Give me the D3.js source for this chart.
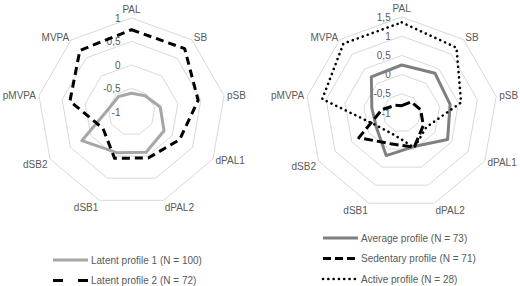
<!DOCTYPE html>
<html>
<head>
<meta charset="utf-8">
<script src="https://cdn.jsdelivr.net/npm/d3@7"></script>
<style>
  body { margin: 0; background: #fff; }
  svg { display: block; }
</style>
</head>
<body>
<div id="chart"></div>
<script>
// categories (clockwise from top)
const categories = ["PAL", "SB", "pSB", "dPAL1", "dPAL2", "dSB1", "dSB2", "pMVPA", "MVPA"];

// left panel: latent profiles
const latent1 = [-0.60, -0.55, -0.38, -0.20, -0.09, -0.08, 0.22, -0.52, -0.57];
const latent2 = [0.75, 0.76, 0.44, 0.18, 0.04, 0.05, -0.30, 0.33, 0.71];
const leftTicks = [-1, -0.5, 0, 0.5, 1];

// right panel: named profiles
const average = [0.25, 0.35, 0.28, 0.38, -0.07, 0.18, -0.24, -0.21, 0.23];
const sedentary = [-0.81, -0.62, -0.50, -0.35, -0.05, -0.15, 0.29, -0.48, -0.74];
const active = [1.36, 1.22, 0.57, -0.26, -0.04, -0.40, -0.30, 1.10, 1.36];
const rightTicks = [-1, -0.5, 0, 0.5, 1, 1.5];

const width = 520, height = 286;
const textColor = "#595959";
const gridColor = "#d9d9d9";

const locale = d3.formatLocale({decimal: ",", thousands: ".", grouping: [3], currency: ["", ""], minus: "-"});
const fmt = locale.format("");

const svg = d3.select("#chart").append("svg")
    .attr("width", width)
    .attr("height", height)
    .attr("viewBox", [0, 0, width, height])
    .attr("font-family", "'Liberation Sans', Arial, sans-serif")
    .attr("font-size", 10);

function radar({cx, cy, rMax, ticks, series, legendX, legendY}) {
  const n = categories.length;
  const angle = i => i * 2 * Math.PI / n;
  const r = d3.scaleLinear().domain(d3.extent(ticks)).range([0, rMax]);

  const g = svg.append("g").attr("transform", `translate(${cx},${cy})`);

  // grid rings
  const ring = d3.lineRadial()
      .angle((d, i) => angle(i))
      .radius(d => r(d))
      .curve(d3.curveLinearClosed);

  g.append("g")
    .selectAll("path")
    .data(ticks.slice(1))
    .join("path")
      .attr("fill", "none")
      .attr("stroke", gridColor)
      .attr("stroke-width", 1)
      .attr("d", t => ring(categories.map(() => t)));

  // value labels
  g.append("g")
    .selectAll("text")
    .data(ticks)
    .join("text")
      .attr("x", -11)
      .attr("y", t => -r(t))
      .attr("dy", "0.35em")
      .attr("text-anchor", "end")
      .attr("fill", textColor)
      .text(fmt);

  // category labels
  g.append("g")
    .selectAll("text")
    .data(categories)
    .join("text")
      .attr("fill", textColor)
      .attr("x", (d, i) => Math.sin(angle(i)) * (rMax + 3))
      .attr("y", (d, i) => {
        const c = Math.cos(angle(i));
        const y = -c * (rMax + 3);
        if (c > 0.95) return y - 6;
        if (c < -0.5) return y + 4;
        return y;
      })
      .attr("dy", "0.35em")
      .attr("text-anchor", (d, i) => {
        const s = Math.sin(angle(i));
        return s > 0.1 ? "start" : s < -0.1 ? "end" : "middle";
      })
      .text(d => d);

  // series
  const line = d3.lineRadial()
      .angle((d, i) => angle(i))
      .radius(d => r(d))
      .curve(d3.curveLinearClosed);

  g.append("g")
    .selectAll("path")
    .data(series)
    .join("path")
      .attr("fill", "none")
      .attr("stroke", s => s.color)
      .attr("stroke-width", s => s.width)
      .attr("stroke-dasharray", s => s.dash)
      .attr("stroke-linecap", s => s.cap)
      .attr("stroke-linejoin", "round")
      .attr("d", s => line(s.values));

  // legend
  const lg = svg.append("g")
    .selectAll("g")
    .data(series)
    .join("g")
      .attr("transform", (s, i) => `translate(${legendX},${legendY + i * 20.5})`);

  lg.append("line")
      .attr("x1", 0).attr("x2", 35)
      .attr("stroke", s => s.color)
      .attr("stroke-width", s => s.width)
      .attr("stroke-dasharray", s => s.legendDash || s.dash)
      .attr("stroke-linecap", s => s.cap);

  lg.append("text")
      .attr("x", 38)
      .attr("dy", "0.35em")
      .attr("fill", textColor)
      .text(s => s.name);
}

radar({
  cx: 131.5, cy: 112, rMax: 94, ticks: leftTicks,
  legendX: 53, legendY: 260,
  series: [
    {name: "Latent profile 1 (N = 100)", values: latent1, color: "#a6a6a6", width: 3, dash: null, cap: "butt"},
    {name: "Latent profile 2 (N = 72)", values: latent2, color: "#000", width: 3, dash: "8,5", legendDash: "10,15", cap: "butt"}
  ]
});

radar({
  cx: 401.7, cy: 113, rMax: 96, ticks: rightTicks,
  legendX: 323, legendY: 238,
  series: [
    {name: "Average profile (N = 73)", values: average, color: "#7f7f7f", width: 3, dash: null, cap: "butt"},
    {name: "Sedentary profile (N = 71)", values: sedentary, color: "#000", width: 3, dash: "9,4", legendDash: "8,4", cap: "butt"},
    {name: "Active profile (N = 28)", values: active, color: "#000", width: 2.6, dash: "0.1,5.2", cap: "round"}
  ]
});
</script>
</body>
</html>
